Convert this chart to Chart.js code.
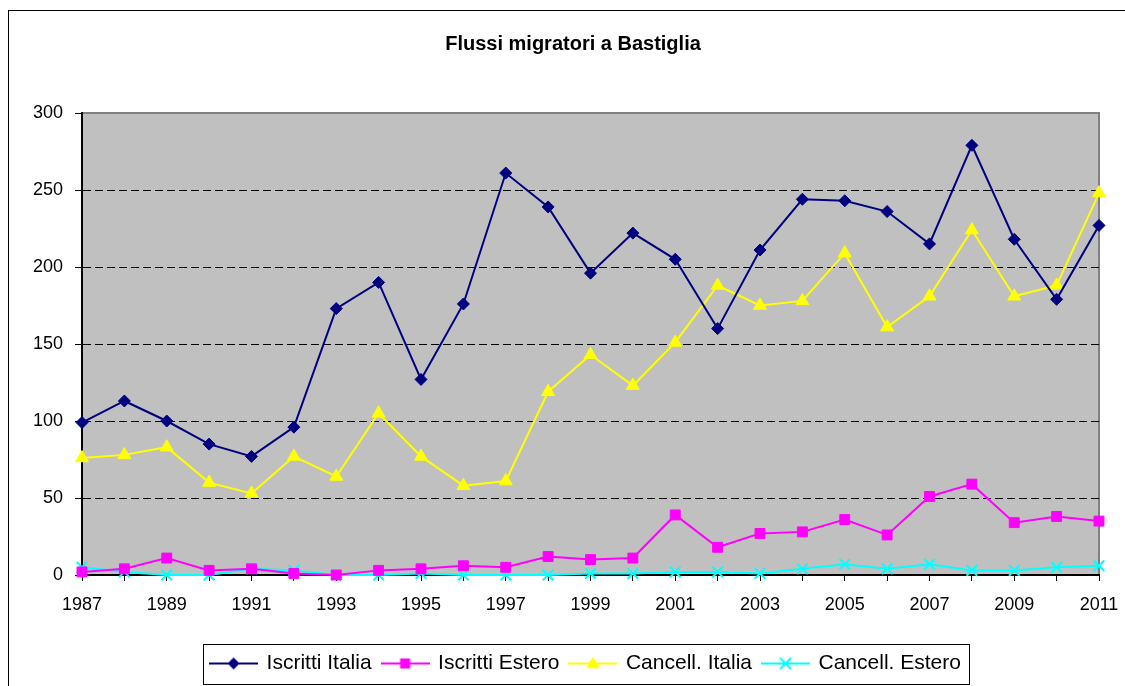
<!DOCTYPE html>
<html>
<head>
<meta charset="utf-8">
<script src="https://cdn.jsdelivr.net/npm/chart.js@4.4.1/dist/chart.umd.min.js"></script>
<style>
  html, body { margin: 0; padding: 0; background: #fff; }
  #wrap { width: 1125px; height: 686px; }
</style>
</head>
<body>
<div id="wrap"><canvas id="grafico"></canvas></div>
<script>
// dati
const anni = ['1987', '1988', '1989', '1990', '1991', '1992', '1993', '1994', '1995', '1996', '1997', '1998', '1999',
  '2000', '2001', '2002', '2003', '2004', '2005', '2006', '2007', '2008', '2009', '2010', '2011'];
const iscrittiItalia = [99, 113, 100, 85, 77, 96, 173, 190, 127, 176, 261, 239, 196, 222, 205, 160, 211, 244, 243, 236, 215, 279, 218, 179, 227];
const iscrittiEstero = [2, 4, 11, 3, 4, 1, 0, 3, 4, 6, 5, 12, 10, 11, 39, 18, 27, 28, 36, 26, 51, 59, 34, 38, 35];
const cancellItalia = [76, 78, 83, 60, 53, 77, 64, 105, 77, 58, 61, 119, 143, 123, 151, 188, 175, 178, 209, 161, 181, 224, 181, 188, 248];
const cancellEstero = [5, 2, 0, 0, 4, 3, 0, 0, 1, 0, 0, 0, 1, 1, 2, 2, 1, 4, 7, 4, 7, 3, 3, 5, 6];
const yTicks = [0, 50, 100, 150, 200, 250, 300];

const FONT = 'Arial, "Liberation Sans", sans-serif';
const SPOSTA_LEGENDA = 13;

// icona della legenda: linea con il marcatore al centro
function iconaLegenda(colore, tipo) {
  const c = document.createElement('canvas');
  c.width = 49; c.height = 18;
  const g = c.getContext('2d');
  const cx = 24.5, cy = 9;
  g.strokeStyle = colore; g.fillStyle = colore; g.lineWidth = 2;
  g.beginPath(); g.moveTo(0, cy); g.lineTo(49, cy); g.stroke();
  g.beginPath();
  if (tipo === 'rombo') {
    g.moveTo(cx - 6, cy); g.lineTo(cx, cy - 6); g.lineTo(cx + 6, cy); g.lineTo(cx, cy + 6); g.closePath(); g.fill();
  } else if (tipo === 'quadrato') {
    g.fillRect(cx - 5, cy - 5, 10, 10);
  } else if (tipo === 'triangolo') {
    g.moveTo(cx, cy - 7); g.lineTo(cx + 6.5, cy + 4.5); g.lineTo(cx - 6.5, cy + 4.5); g.closePath(); g.fill();
  } else {
    g.moveTo(cx - 5.5, cy - 5.5); g.lineTo(cx + 5.5, cy + 5.5);
    g.moveTo(cx + 5.5, cy - 5.5); g.lineTo(cx - 5.5, cy + 5.5); g.stroke();
  }
  return c;
}

const sfondo = {
  id: 'sfondo',
  beforeDraw(chart) {
    const { ctx, chartArea: a } = chart;
    // la legenda nell'originale e' un po' spostata a destra
    if (!chart.legend._spostata) {
      chart.legend.left += SPOSTA_LEGENDA;
      chart.legend.right += SPOSTA_LEGENDA;
      chart.legend._spostata = true;
    }
    ctx.save();
    ctx.fillStyle = '#fff';
    ctx.fillRect(0, 0, chart.width, chart.height);
    ctx.strokeStyle = '#000'; ctx.lineWidth = 1;
    ctx.strokeRect(8.5, 10.5, 1300, 1000);
    ctx.fillStyle = '#c0c0c0';
    ctx.fillRect(a.left, a.top, a.right - a.left, a.bottom - a.top);
    ctx.strokeStyle = '#808080'; ctx.lineWidth = 2;
    ctx.beginPath();
    ctx.moveTo(a.left, a.top); ctx.lineTo(a.right, a.top); ctx.lineTo(a.right, a.bottom);
    ctx.stroke();
    ctx.restore();
  },
  afterDraw(chart) {
    const boxes = chart.legend.legendHitBoxes;
    if (!boxes || !boxes.length) return;
    const l = Math.min(...boxes.map(b => b.left)) - 8 + SPOSTA_LEGENDA;
    const r = Math.max(...boxes.map(b => b.left + b.width)) + 8 + SPOSTA_LEGENDA;
    const { ctx } = chart;
    ctx.save();
    ctx.strokeStyle = '#000'; ctx.lineWidth = 1;
    ctx.strokeRect(Math.round(l) + 0.5, 644.5, Math.round(r - l), 40);
    ctx.restore();
  }
};

const serie = [
  { label: 'Iscritti Italia', data: iscrittiItalia, colore: '#000080', stile: 'rectRot', r: 6, icona: 'rombo' },
  { label: 'Iscritti Estero', data: iscrittiEstero, colore: '#ff00ff', stile: 'rect', r: 7, icona: 'quadrato' },
  { label: 'Cancell. Italia', data: cancellItalia, colore: '#ffff00', stile: 'triangle', r: 7.5, icona: 'triangolo' },
  { label: 'Cancell. Estero', data: cancellEstero, colore: '#00ffff', stile: 'crossRot', r: 7.5, icona: 'croce' }
];

new Chart(document.getElementById('grafico'), {
  type: 'line',
  data: {
    labels: anni,
    datasets: serie.map(s => ({
      label: s.label,
      data: s.data,
      borderColor: s.colore,
      backgroundColor: s.colore,
      borderWidth: 2,
      pointStyle: s.stile,
      pointRadius: s.r,
      pointHoverRadius: s.r,
      pointBorderWidth: s.stile === 'crossRot' ? 2 : 1,
      pointBorderColor: s.colore,
      pointBackgroundColor: s.colore,
      tension: 0,
      clip: false,
      icona: iconaLegenda(s.colore, s.icona)
    }))
  },
  options: {
    responsive: true,
    maintainAspectRatio: false,
    animation: false,
    events: [],
    layout: { padding: { left: 21, right: 0, top: 0, bottom: 2 } },
    plugins: {
      title: {
        display: true,
        text: 'Flussi migratori a Bastiglia',
        color: '#000',
        font: { family: FONT, size: 20, weight: 'bold' },
        padding: { top: 32, bottom: 57 }
      },
      legend: {
        position: 'bottom',
        labels: {
          color: '#000',
          font: { family: FONT, size: 21 },
          usePointStyle: true,
          pointStyleWidth: 45,
          padding: 11,
          generateLabels(chart) {
            return chart.data.datasets.map((d, i) => ({
              text: d.label,
              pointStyle: d.icona,
              datasetIndex: i,
              fillStyle: d.borderColor,
              strokeStyle: d.borderColor,
              lineWidth: 0,
              hidden: false
            }));
          }
        }
      },
      tooltip: { enabled: false }
    },
    scales: {
      x: {
        offset: false,
        grid: { drawOnChartArea: false, drawTicks: true, tickLength: 6, tickColor: '#000' },
        border: { display: true, color: '#000', width: 2 },
        ticks: {
          autoSkip: false,
          maxRotation: 0,
          padding: 13,
          color: '#000',
          font: { family: FONT, size: 18 },
          callback: (v, i) => (i % 2 === 0 ? anni[i] : '')
        },
        afterFit(scale) {
          scale.height = 67;
          scale.paddingLeft = 0;
          scale.paddingRight = 26;
        }
      },
      y: {
        min: 0,
        max: 300,
        afterBuildTicks(scale) { scale.ticks = yTicks.map(v => ({ value: v })); },
        afterFit(scale) { scale.width = 61; },
        grid: {
          color: c => (c.tick && (c.tick.value === 0 || c.tick.value === 300) ? 'rgba(0,0,0,0)' : '#000'),
          lineWidth: 1,
          tickLength: 7,
          tickColor: '#000'
        },
        border: { display: true, color: '#000', width: 2, dash: [8, 4] },
        ticks: {
          padding: 12,
          color: '#000',
          font: { family: FONT, size: 18 }
        }
      }
    }
  },
  plugins: [sfondo]
});
</script>
</body>
</html>
